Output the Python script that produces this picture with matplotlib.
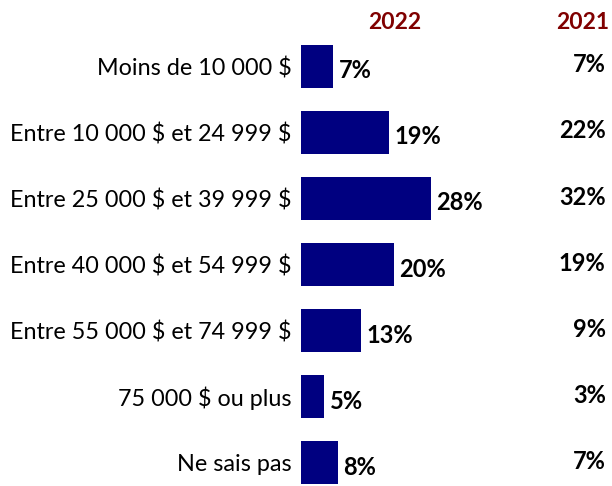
import numpy as np
from matplotlib import pyplot as plt

plt.rcParams['font.family'] = ['Lato', 'DejaVu Sans']
plt.rcParams['text.parse_math'] = False

# data
categories = ["Moins de 10 000 $", "Entre 10 000 $ et 24 999 $", "Entre 25 000 $ et 39 999 $",
              "Entre 40 000 $ et 54 999 $", "Entre 55 000 $ et 74 999 $", "75 000 $ ou plus",
              "Ne sais pas"]
values_2022 = [7, 19, 28, 20, 13, 5, 8]
values_2021 = [7, 22, 32, 19, 9, 3, 7]

fig = plt.figure(figsize=(6.12, 4.86), dpi=100)
ax = fig.add_axes([301 / 612, 0, 311 / 612, 1])

y = np.arange(len(categories))
ax.barh(y, values_2022, height=0.65, color="#000080")

for i in range(len(categories)):
    ax.text(values_2022[i] + 1.2, y[i] + 0.07, f"{values_2022[i]}%", ha="left", va="center",
            fontsize=17, fontweight="bold", color="black")
    ax.text(65.8, y[i] - 0.02, f"{values_2021[i]}%", ha="right", va="center",
            fontsize=17, fontweight="bold", color="black")

ax.text(20.3, -0.66, "2022", ha="center", va="center", fontsize=16.5, fontweight="bold", color="#800000")
ax.text(60.8, -0.66, "2021", ha="center", va="center", fontsize=16.5, fontweight="bold", color="#800000")

ax.set_yticks(y)
ax.set_yticklabels(categories, fontsize=16.8)
ax.tick_params(axis="y", length=0, pad=7)
ax.set_xticks([])
ax.set_xlim(0, 311 / 4.63)
ax.set_ylim(6.35, -1.0)
for s in ax.spines.values():
    s.set_visible(False)

fig.savefig("out.png", dpi=100)
